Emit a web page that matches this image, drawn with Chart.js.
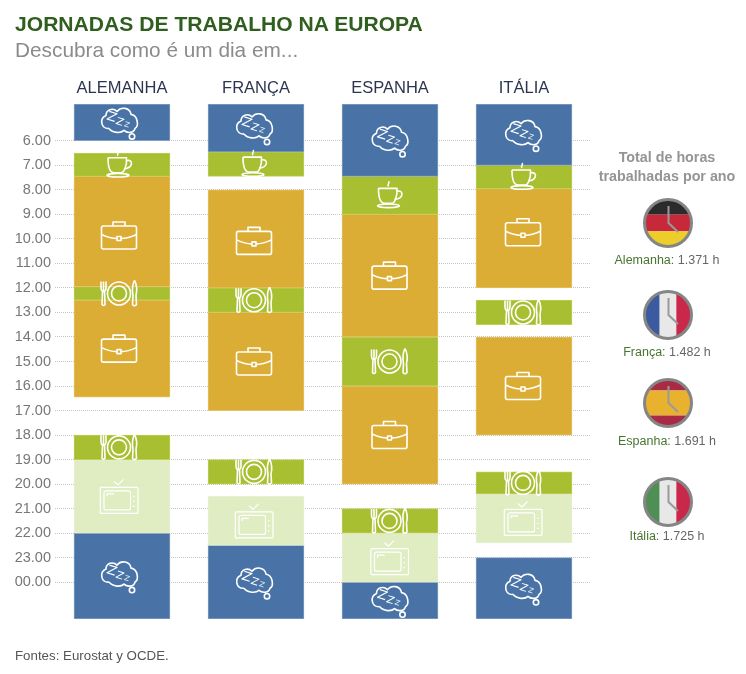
<!DOCTYPE html>
<html>
<head>
<meta charset="utf-8">
<script src="https://cdn.jsdelivr.net/npm/chart.js@4"></script>
<style>
body { margin: 0; background: #fff; font-family: "Liberation Sans", sans-serif; }
#box { position: relative; width: 746px; height: 674px; overflow: hidden; }
#box div { position: absolute; white-space: nowrap; }
#titulo { left: 15px; top: 12px; font-size: 21.1px; font-weight: bold; color: #2f5e1e; }
#subtitulo { left: 15px; top: 38px; font-size: 20.8px; color: #8b8b8b; }
#fontes { left: 15px; top: 648px; font-size: 13.3px; color: #555; }
#lado { left: 590px; top: 148px; width: 154px; text-align: center; font-size: 14.3px; line-height: 19px; font-weight: bold; color: #949494; white-space: normal !important; }
.horas { left: 590px; width: 154px; text-align: center; font-size: 12.5px; color: #666; }
.horas span { color: #47752f; }
.bandeira { left: 642px; }
</style>
</head>
<body>
<div id="box">
    <canvas id="myChart" width="746" height="674"></canvas>
    <div id="titulo">JORNADAS DE TRABALHO NA EUROPA</div>
    <div id="subtitulo">Descubra como é um dia em...</div>
    <div id="lado">Total de horas<br>trabalhadas por ano</div>
    <div id="fontes">Fontes: Eurostat y OCDE.</div>
</div>
<script>
const categories = ['ALEMANHA', 'FRANÇA', 'ESPANHA', 'ITÁLIA'];
const tickHours = [6, 7, 8, 9, 10, 11, 12, 13, 14, 15, 16, 17, 18, 19, 20, 21, 22, 23, 24];
const tickLabels = ['6.00', '7.00', '8.00', '9.00', '10.00', '11.00', '12.00', '13.00', '14.00', '15.00',
    '16.00', '17.00', '18.00', '19.00', '20.00', '21.00', '22.00', '23.00', '00.00'];

// horas de cada bloco, uma faixa por pais
const sonoManha = [[4.5, 6], [4.5, 6.45], [4.5, 7.45], [4.5, 7]];
const cafe = [[6.5, 7.45], [6.45, 7.45], [7.45, 9], [7, 7.95]];
const trabalhoManha = [[7.45, 11.95], [8, 12], [9, 14], [7.95, 12]];
const almoco = [[11.95, 12.5], [12, 13], [14, 16], [12.5, 13.5]];
const trabalhoTarde = [[12.5, 16.45], [13, 17], [16, 20], [14, 18]];
const jantar = [[18, 19], [19, 20], [21, 22], [19.5, 20.4]];
const lazer = [[19, 22], [20.5, 22.5], [22, 24], [20.4, 22.4]];
const sonoNoite = [[22, 25.5], [22.5, 25.5], [24, 25.5], [23, 25.5]];

const paises = ['Alemanha', 'França', 'Espanha', 'Itália'];
const horasAno = [1371, 1482, 1691, 1725];

const azul = 'rgba(66,109,162,0.96)';
const ouro = 'rgba(218,170,44,0.96)';
const verde = 'rgba(166,188,42,0.96)';
const claro = 'rgba(221,234,189,0.92)';

// ajuste fino dos icones em relacao ao centro da barra
const iconeDx = [-3, -2, -0.5, -1];

function bloco(label, data, cor, borda, icone, iconeDy) {
    return { label, data, icone, iconeDy, backgroundColor: cor, borderColor: borda, borderWidth: 1, borderSkipped: false,
        grouped: false, barThickness: 96 };
}

function iconeSono(c) {
    c.translate(0, -1);
    c.beginPath();
    c.moveTo(-10, 7);
    c.bezierCurveTo(-18, 8, -20, -3, -13, -6);
    c.bezierCurveTo(-13, -12, -6, -14, -2, -10);
    c.bezierCurveTo(2, -15, 11, -14, 12, -7);
    c.bezierCurveTo(19, -6, 20, 5, 16, 7);
    c.bezierCurveTo(15, 12, 8, 12, 5, 9);
    c.bezierCurveTo(2, 12, -6, 12, -10, 7);
    c.stroke();
    c.beginPath();
    c.arc(13, 15, 2.7, 0, Math.PI * 2);
    c.stroke();
    c.lineWidth = 1.2;
    [[-7, -5, 1], [1, 0, 0.8], [8, 3, 0.55]].forEach(([x, y, s]) => {
        c.save();
        c.translate(x, y);
        c.rotate(0.3);
        c.scale(s, s);
        c.beginPath();
        c.moveTo(-4, -4);
        c.lineTo(4, -4);
        c.lineTo(-4, 4);
        c.lineTo(4, 4);
        c.stroke();
        c.restore();
    });
}

function iconeCafe(c) {
    c.beginPath();
    c.moveTo(-11, -7);
    c.lineTo(7.5, -7);
    c.bezierCurveTo(8, 2, 5, 8, 2, 8);
    c.lineTo(-5, 8);
    c.bezierCurveTo(-9, 8, -11, 2, -11, -7);
    c.stroke();
    c.beginPath();
    c.moveTo(7.5, -4);
    c.bezierCurveTo(14, -6, 15, 3, 5, 4);
    c.stroke();
    c.beginPath();
    c.ellipse(-1, 10.5, 11, 1.8, 0, 0, Math.PI * 2);
    c.stroke();
    c.beginPath();
    c.moveTo(-1, -9);
    c.bezierCurveTo(-3, -11, 1, -12, -1, -14);
    c.stroke();
}

function iconeTrabalho(c) {
    c.beginPath();
    c.roundRect(-17.5, -9.5, 35, 23, 2);
    c.stroke();
    c.beginPath();
    c.moveTo(-6, -9.5);
    c.lineTo(-6, -13.5);
    c.lineTo(6, -13.5);
    c.lineTo(6, -9.5);
    c.stroke();
    c.beginPath();
    c.moveTo(-17.5, -1);
    c.quadraticCurveTo(-9, 3, -2, 3);
    c.moveTo(2, 3);
    c.quadraticCurveTo(9, 3, 17.5, -1);
    c.stroke();
    c.strokeRect(-2, 1, 4, 4);
}

function iconeRefeicao(c) {
    c.beginPath();
    c.arc(0, 0, 11.5, 0, Math.PI * 2);
    c.stroke();
    c.beginPath();
    c.arc(0, 0, 7.5, 0, Math.PI * 2);
    c.stroke();
    c.beginPath();
    c.moveTo(-18, -12);
    c.lineTo(-18, -6);
    c.quadraticCurveTo(-18, -2, -15.5, -2);
    c.quadraticCurveTo(-13, -2, -13, -6);
    c.lineTo(-13, -12);
    c.moveTo(-15.5, -12);
    c.lineTo(-15.5, -2);
    c.moveTo(-14.5, -2);
    c.lineTo(-14, 11);
    c.quadraticCurveTo(-15.5, 13, -17, 11);
    c.lineTo(-16.5, -2);
    c.stroke();
    c.beginPath();
    c.moveTo(15.5, -13);
    c.bezierCurveTo(18, -8, 18, -2, 17, 2);
    c.lineTo(17.5, 11);
    c.quadraticCurveTo(15.5, 13.5, 13.5, 11);
    c.lineTo(14, 2);
    c.bezierCurveTo(13, -3, 13.5, -9, 15.5, -13);
    c.stroke();
}

function iconeLazer(c) {
    c.lineWidth = 1.2;
    c.beginPath();
    c.roundRect(-18.7, -9, 37.7, 26, 1);
    c.stroke();
    c.beginPath();
    c.roundRect(-15, -5.5, 26.5, 19, 2);
    c.stroke();
    c.beginPath();
    c.moveTo(-12, 0);
    c.lineTo(-12, -2.5);
    c.lineTo(-5, -2.5);
    c.stroke();
    c.beginPath();
    c.moveTo(-5, -15);
    c.lineTo(-1, -11.5);
    c.lineTo(4.5, -17);
    c.stroke();
    [0, 5, 10].forEach((y) => {
        c.beginPath();
        c.moveTo(14, y);
        c.lineTo(15.5, y);
        c.stroke();
    });
}

// desenha o icone no meio de cada bloco
const iconesPlugin = {
    id: 'icones',
    afterDatasetsDraw(chart) {
        const c = chart.ctx;
        chart.data.datasets.forEach((ds, i) => {
            chart.getDatasetMeta(i).data.forEach((bar, k) => {
                const dy = ds.iconeDy ? ds.iconeDy[k] : 0;
                c.save();
                c.translate(bar.x + iconeDx[k], (bar.y + bar.base) / 2 + dy);
                c.strokeStyle = '#fff';
                c.lineWidth = 1.6;
                c.lineJoin = 'round';
                ds.icone(c);
                c.restore();
            });
        });
    }
};

new Chart(document.querySelector('#myChart').getContext('2d'), {
    type: 'bar',
    data: {
        labels: categories,
        datasets: [
            bloco('Sono', sonoManha, azul, '#86a2c6', iconeSono),
            bloco('Café', cafe, verde, '#bfd05e', iconeCafe),
            bloco('Trabalho', trabalhoManha, ouro, '#e6c468', iconeTrabalho, [4, 2, 0, -6]),
            bloco('Almoço', almoco, verde, '#bfd05e', iconeRefeicao),
            bloco('Trabalho', trabalhoTarde, ouro, '#e6c468', iconeTrabalho),
            bloco('Jantar', jantar, verde, '#bfd05e', iconeRefeicao),
            bloco('Lazer', lazer, claro, '#e9f1d4', iconeLazer),
            bloco('Sono', sonoNoite, azul, '#86a2c6', iconeSono)
        ]
    },
    plugins: [iconesPlugin],
    options: {
        responsive: false,
        animation: false,
        layout: { padding: { top: 0, left: 0, right: 155, bottom: 55 } },
        plugins: { legend: { display: false }, tooltip: { enabled: false } },
        scales: {
            x: {
                position: 'top',
                afterFit: (scale) => { scale.height = 104; },
                grid: { display: false },
                border: { display: false },
                ticks: { color: '#2b3550', padding: -2, font: { family: 'Liberation Sans', size: 16.5 }, maxRotation: 0 }
            },
            y: {
                reverse: true,
                min: 4.5,
                max: 25.5,
                afterFit: (scale) => { scale.width = 55; },
                afterBuildTicks: (scale) => { scale.ticks = tickHours.map((value) => ({ value })); },
                grid: { color: '#c6c6c6', drawTicks: false },
                border: { display: false, dash: [1, 1] },
                ticks: {
                    color: '#777',
                    padding: 4,
                    font: { family: 'Liberation Sans', size: 14.5 },
                    callback: (value) => tickLabels[tickHours.indexOf(value)]
                }
            }
        }
    }
});

// coluna da direita: relogios com as bandeiras
const listras = [
    { dir: 'h', cores: ['#2b2b2b', '#c8293a', '#eccd2a'] },
    { dir: 'v', cores: ['#3b5a9f', '#e8e8e8', '#c9284a'] },
    { dir: 'h', cores: ['#a92a44', '#e8b22f', '#a92a44'], tam: [1, 2, 1] },
    { dir: 'v', cores: ['#4f8f56', '#e8e8e8', '#c9284a'] }
];
const centrosY = [223, 315, 403, 502];
const textosY = [253, 345, 434, 529];

function bandeira(f, i) {
    const tam = f.tam || [1, 1, 1];
    const total = tam[0] + tam[1] + tam[2];
    let pos = 0;
    let rects = '';
    f.cores.forEach((cor, k) => {
        const s = 50 * tam[k] / total;
        rects += f.dir === 'h'
            ? `<rect x="0" y="${pos}" width="50" height="${s}" fill="${cor}"/>`
            : `<rect x="${pos}" y="0" width="${s}" height="50" fill="${cor}"/>`;
        pos += s;
    });
    return `<svg width="52" height="52" viewBox="-1 -1 52 52">
        <clipPath id="cl${i}"><circle cx="25" cy="25" r="24"/></clipPath>
        <g clip-path="url(#cl${i})">${rects}</g>
        <circle cx="25" cy="25" r="23.5" fill="none" stroke="#858585" stroke-width="3"/>
        <path d="M25.5 8 L25.5 25 L35 34" fill="none" stroke="#9a9a9a" stroke-width="2"/>
    </svg>`;
}

const box = document.querySelector('#box');
paises.forEach((nome, i) => {
    const flag = document.createElement('div');
    flag.className = 'bandeira';
    flag.style.top = (centrosY[i] - 26) + 'px';
    flag.innerHTML = bandeira(listras[i], i);
    box.appendChild(flag);
    const txt = document.createElement('div');
    txt.className = 'horas';
    txt.style.top = textosY[i] + 'px';
    const n = String(horasAno[i]);
    txt.innerHTML = `<span>${nome}:</span> ${n[0]}.${n.slice(1)} h`;
    box.appendChild(txt);
});
</script>
</body>
</html>
